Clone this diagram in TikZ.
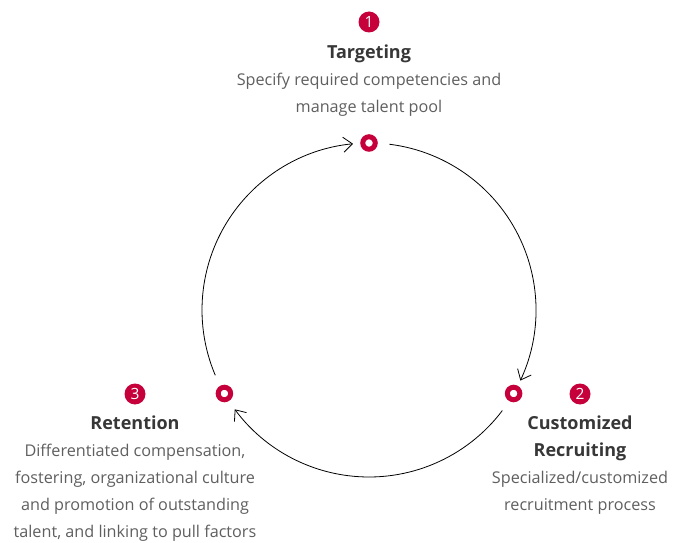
\documentclass[tikz,border=0pt]{standalone}
\usepackage{fontspec}
\setmainfont{Open Sans}
\usepackage{tikz}
\usetikzlibrary{arrows.meta,positioning}

\definecolor{lgred}{RGB}{197,0,58}
\definecolor{titlegray}{RGB}{55,55,55}
\definecolor{bodygray}{RGB}{95,95,95}

\begin{document}
\begin{tikzpicture}[x=1pt,y=1pt,>={Straight Barb[length=9pt,width=15pt]}]
	\tikzstyle{marker}=[circle, draw=lgred, line width=5pt, fill=white, minimum size=12.5pt, inner sep=0pt]
	\tikzstyle{badge}=[circle, fill=lgred, text=white, minimum size=21pt, inner sep=0pt, font=\fontsize{15.5}{15.5}\selectfont]
	\tikzstyle{block}=[align=center, inner sep=0pt, anchor=north, text=bodygray, font=\fontsize{16.2}{26.8}\selectfont]
	\tikzstyle{cycle}=[line width=0.8pt, ->]
	\newcommand{\ttl}[1]{\textcolor{titlegray}{\fontsize{18}{26.8}\selectfont\bfseries #1}}

	\useasboundingbox (0,0) rectangle (673,542);

	% centre of the cycle, radius 167
	\coordinate (c) at (369,232);

	\node[marker] (m1) at (369,399)   {};
	\node[marker] (m2) at (513.6,148.5) {};
	\node[marker] (m3) at (224.4,148.5) {};

	\node[badge] (b1) at (369,520) {1};
	\node[badge] (b2) at (580,148) {2};
	\node[badge] (b3) at (135,148) {3};

	\node[block] (t1) at (369,497)
		{\ttl{Targeting}\\
		 Specify required competencies and\\
		 manage talent pool};
	\node[block] (t2) at (580,126)
		{\ttl{Customized}\\
		 \ttl{Recruiting}\\
		 Specialized/customized\\
		 recruitment process};
	\node[block] (t3) at (135,126)
		{\ttl{Retention}\\
		 Differentiated compensation,\\
		 fostering, organizational culture\\
		 and promotion of outstanding\\
		 talent, and linking to pull factors};

	% the three arcs
	\draw[cycle] (c) ++(83:167) arc[start angle=83, end angle=-25, radius=167];
	\draw[cycle] (c) ++(-37:167) arc[start angle=-37, end angle=-143.5, radius=167];
	\draw[cycle] (c) ++(203:167) arc[start angle=203, end angle=95.5, radius=167];
\end{tikzpicture}
\end{document}
